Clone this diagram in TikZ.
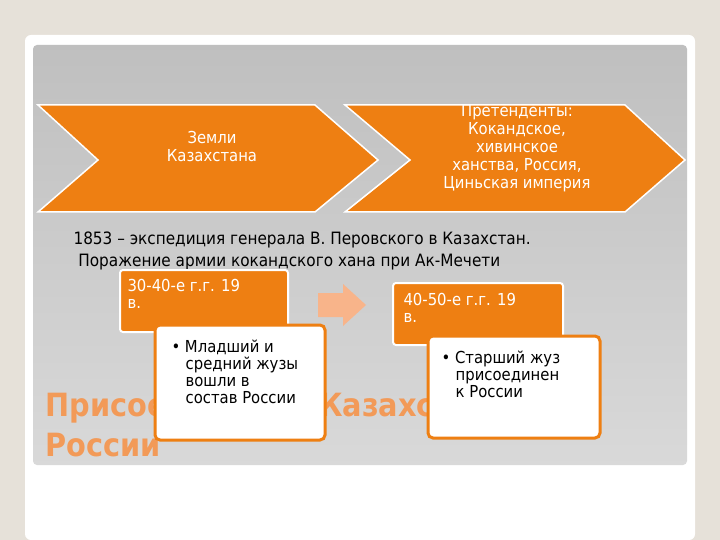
\documentclass[tikz,border=0pt]{standalone}
\usepackage{fontspec}
\setmainfont{DejaVu Sans}
\newfontfamily\titlefont{DejaVu Sans Condensed}
\newfontfamily\smallfont{DejaVu Sans Condensed}
\definecolor{bg}{HTML}{E6E1D9}
\definecolor{org}{HTML}{EE7F12}
\definecolor{ttl}{HTML}{F29A58}
\definecolor{lor}{HTML}{F8B48A}
\tikzset{
 chev/.style={fill=org,draw=white,line width=1.5pt,line join=miter},
 obox/.style={fill=org,draw=white,line width=2pt,rounded corners=3pt},
 wbox/.style={fill=white,draw=org,line width=3pt,rounded corners=5pt},
 txt/.style={font=\smallfont\fontsize{16.5}{18}\selectfont,text=white,align=center},
 btxt/.style={font=\smallfont\fontsize{16.5}{17}\selectfont,align=left,anchor=north west}
}
\begin{document}
\begin{tikzpicture}[x=1pt,y=-1pt]
\useasboundingbox (0,0) rectangle (720,540);
\fill[bg] (0,0) rectangle (720,540);
\fill[white,rounded corners=6pt] (25,35) rectangle (695,540);
\shade[top color=gray!50,bottom color=gray!30,rounded corners=4pt] (33,45) rectangle (687,465);
\draw[chev] (38,105) -- (315,105) -- (378,160) -- (315,212) -- (38,212) -- (98,160) -- cycle;
\draw[chev] (345,105) -- (625,105) -- (685,160) -- (625,212) -- (345,212) -- (410,160) -- cycle;
\node[txt] (c1) at (212,146) {Земли\\Казахстана};
\node[txt] (c2) at (517,148) {Претенденты:\\Кокандское,\\хивинское\\ханства, Россия,\\Циньская империя};
\node[font=\smallfont\fontsize{17}{22}\selectfont,align=left,anchor=north west] (t1) at (70,228) {1853 – экспедиция генерала В. Перовского в Казахстан.\\\ Поражение армии кокандского хана при Ак-Мечети};
\node[font=\fontsize{32}{40}\selectfont\titlefont\bfseries,text=ttl,align=left,anchor=north west] (tt) at (42,390) {Присоединение Казахстана к\\России};
\draw[obox] (120,270) rectangle (288,332);
\node[btxt,text=white] (o1) at (124,276) {30-40-е г.г. 19\\в.};
\draw[wbox] (155,325) rectangle (325,440);
\node[btxt] (w1) at (168,336) {• Младший и\\\ \ \ средний жузы\\\ \ \ вошли в\\\ \ \ состав России};
\fill[lor] (318,293) -- (343,293) -- (343,284) -- (366,305) -- (343,326) -- (343,317) -- (318,317) -- cycle;
\draw[obox] (393,283) rectangle (563,345);
\node[btxt,text=white] (o2) at (400,290) {40-50-е г.г. 19\\в.};
\draw[wbox] (428,336) rectangle (600,438);
\node[btxt] (w2) at (438,347) {• Старший жуз\\\ \ \ присоединен\\\ \ \ к России};
\end{tikzpicture}
\end{document}
